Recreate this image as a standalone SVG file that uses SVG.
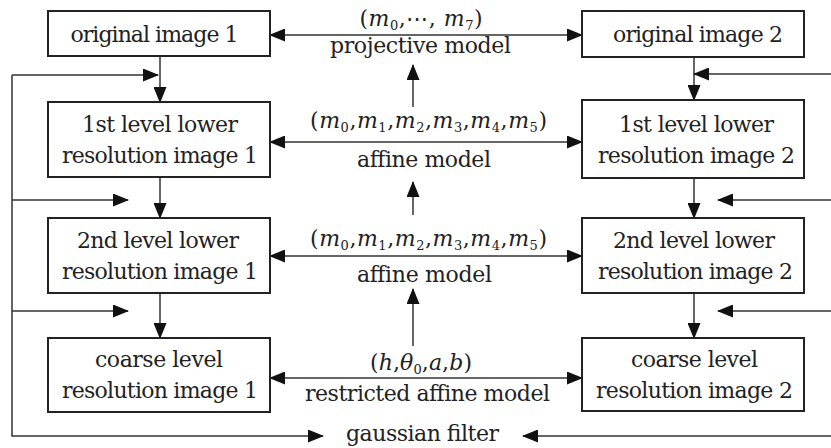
<svg xmlns="http://www.w3.org/2000/svg" width="831" height="448" viewBox="0 0 831 448">
<defs>
<style>
.box{fill:#fff;stroke:#222;stroke-width:2}
.ln{fill:none;stroke:#333;stroke-width:1.5}
.t{font-family:"DejaVu Serif","Liberation Serif",serif;font-size:22px;fill:#222;text-anchor:middle}
.i{font-style:italic}
.s{font-size:13px;font-style:normal}
</style>
<marker id="ah" markerWidth="16" markerHeight="13" refX="15" refY="6.5" orient="auto-start-reverse" markerUnits="userSpaceOnUse">
<path d="M0,0 L16,6.5 L0,13 z" fill="#111"/>
</marker>
</defs>
<rect width="831" height="448" fill="#fff"/>

<g id="connectors">
<line class="ln" x1="160" y1="56" x2="160" y2="102" marker-end="url(#ah)"/>
<line class="ln" x1="160" y1="177" x2="160" y2="218" marker-end="url(#ah)"/>
<line class="ln" x1="160" y1="293" x2="160" y2="338" marker-end="url(#ah)"/>
<line class="ln" x1="694" y1="57" x2="694" y2="100" marker-end="url(#ah)"/>
<line class="ln" x1="694" y1="178" x2="694" y2="218" marker-end="url(#ah)"/>
<line class="ln" x1="694" y1="293" x2="694" y2="338" marker-end="url(#ah)"/>
<line class="ln" x1="270" y1="35" x2="582" y2="35" marker-start="url(#ah)" marker-end="url(#ah)"/>
<line class="ln" x1="270" y1="142" x2="582" y2="142" marker-start="url(#ah)" marker-end="url(#ah)"/>
<line class="ln" x1="270" y1="256" x2="582" y2="256" marker-start="url(#ah)" marker-end="url(#ah)"/>
<line class="ln" x1="270" y1="378" x2="582" y2="378" marker-start="url(#ah)" marker-end="url(#ah)"/>
<line class="ln" x1="413" y1="107" x2="413" y2="65" marker-end="url(#ah)"/>
<line class="ln" x1="413" y1="215" x2="413" y2="182" marker-end="url(#ah)"/>
<line class="ln" x1="413" y1="346" x2="413" y2="289" marker-end="url(#ah)"/>
<polyline class="ln" points="12,75 12,436 323,436" marker-end="url(#ah)"/>
<line class="ln" x1="12" y1="75" x2="158" y2="75" marker-end="url(#ah)"/>
<line class="ln" x1="12" y1="200" x2="128" y2="200" marker-end="url(#ah)"/>
<line class="ln" x1="12" y1="311" x2="128" y2="311" marker-end="url(#ah)"/>
<line class="ln" x1="831" y1="74" x2="694" y2="74" marker-end="url(#ah)"/>
<line class="ln" x1="831" y1="200" x2="718" y2="200" marker-end="url(#ah)"/>
<line class="ln" x1="831" y1="311" x2="718" y2="311" marker-end="url(#ah)"/>
<line class="ln" x1="831" y1="436" x2="523" y2="436" marker-end="url(#ah)"/>
<text class="t" x="421" y="26" textLength="123">(<tspan class="i">m</tspan><tspan class="s" dy="4">0</tspan><tspan dy="-4">,⋯, </tspan><tspan class="i">m</tspan><tspan class="s" dy="4">7</tspan><tspan dy="-4">)</tspan></text>
<text class="t" x="420.5" y="53" textLength="181">projective model</text>
<text class="t" x="428.5" y="128" textLength="237">(<tspan class="i">m</tspan><tspan class="s" dy="4">0</tspan><tspan dy="-4">,</tspan><tspan class="i">m</tspan><tspan class="s" dy="4">1</tspan><tspan dy="-4">,</tspan><tspan class="i">m</tspan><tspan class="s" dy="4">2</tspan><tspan dy="-4">,</tspan><tspan class="i">m</tspan><tspan class="s" dy="4">3</tspan><tspan dy="-4">,</tspan><tspan class="i">m</tspan><tspan class="s" dy="4">4</tspan><tspan dy="-4">,</tspan><tspan class="i">m</tspan><tspan class="s" dy="4">5</tspan><tspan dy="-4">)</tspan></text>
<text class="t" x="424" y="167" textLength="134">affine model</text>
<text class="t" x="428.5" y="246" textLength="237">(<tspan class="i">m</tspan><tspan class="s" dy="4">0</tspan><tspan dy="-4">,</tspan><tspan class="i">m</tspan><tspan class="s" dy="4">1</tspan><tspan dy="-4">,</tspan><tspan class="i">m</tspan><tspan class="s" dy="4">2</tspan><tspan dy="-4">,</tspan><tspan class="i">m</tspan><tspan class="s" dy="4">3</tspan><tspan dy="-4">,</tspan><tspan class="i">m</tspan><tspan class="s" dy="4">4</tspan><tspan dy="-4">,</tspan><tspan class="i">m</tspan><tspan class="s" dy="4">5</tspan><tspan dy="-4">)</tspan></text>
<text class="t" x="424.5" y="282" textLength="135">affine model</text>
<text class="t" x="421" y="370" textLength="102">(<tspan class="i">h</tspan>,<tspan class="i">θ</tspan><tspan class="s" dy="4">0</tspan><tspan dy="-4">,</tspan><tspan class="i">a</tspan>,<tspan class="i">b</tspan>)</text>
<text class="t" x="427.5" y="401" textLength="245">restricted affine model</text>
<text class="t" x="422.5" y="441" textLength="153">gaussian filter</text>
</g>

<g id="orig1"><rect class="box" x="48" y="11" width="222" height="45"/><text class="t" x="154.5" y="42" textLength="168">original image 1</text></g>
<g id="orig2"><rect class="box" x="582" y="11" width="222" height="46"/><text class="t" x="698" y="42" textLength="170">original image 2</text></g>
<g id="lvl1a"><rect class="box" x="48" y="102" width="222" height="75"/><text class="t" x="160" y="132" textLength="156">1st level lower</text><text class="t" x="160" y="163" textLength="196">resolution image 1</text></g>
<g id="lvl1b"><rect class="box" x="582" y="100" width="222" height="78"/><text class="t" x="696.5" y="132" textLength="155">1st level lower</text><text class="t" x="696.5" y="163" textLength="197">resolution image 2</text></g>
<g id="lvl2a"><rect class="box" x="48" y="218" width="222" height="75"/><text class="t" x="158" y="248" textLength="162">2nd level lower</text><text class="t" x="160" y="279" textLength="196">resolution image 1</text></g>
<g id="lvl2b"><rect class="box" x="582" y="218" width="222" height="75"/><text class="t" x="694" y="248" textLength="162">2nd level lower</text><text class="t" x="695.5" y="279" textLength="195">resolution image 2</text></g>
<g id="coarse1"><rect class="box" x="48" y="338" width="222" height="74"/><text class="t" x="159" y="367" textLength="128">coarse level</text><text class="t" x="160" y="398" textLength="196">resolution image 1</text></g>
<g id="coarse2"><rect class="box" x="582" y="338" width="222" height="73"/><text class="t" x="694.5" y="367" textLength="127">coarse level</text><text class="t" x="694.5" y="398" textLength="197">resolution image 2</text></g>
</svg>
